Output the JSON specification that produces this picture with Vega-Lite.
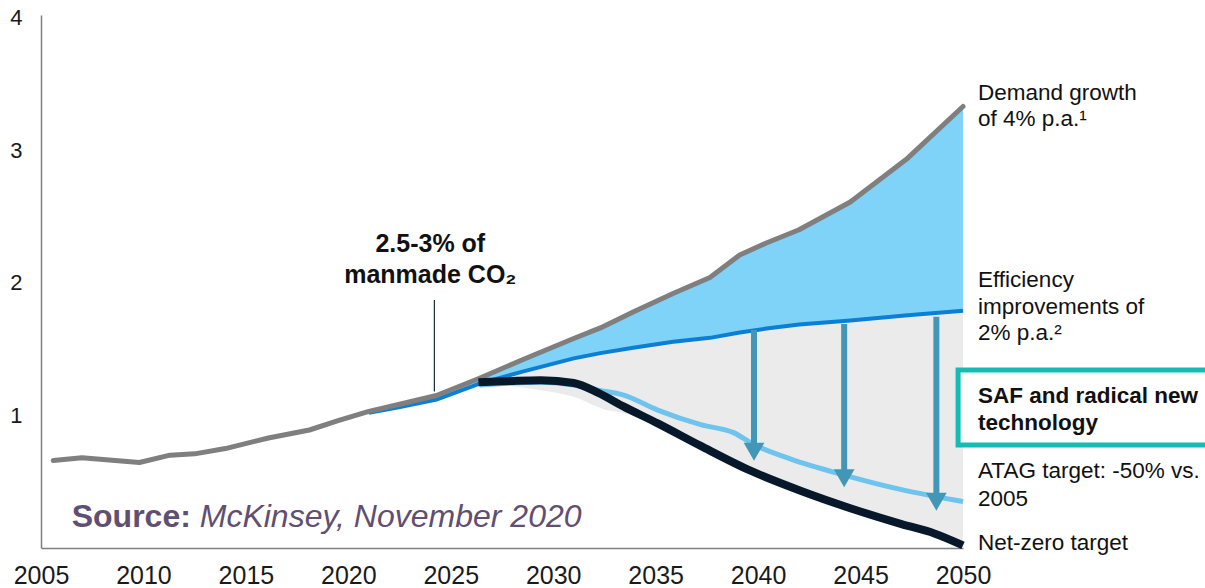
{
  "$schema": "https://vega.github.io/schema/vega-lite/v6.json",
  "width": 922,
  "height": 533,
  "autosize": "none",
  "padding": {"left": 41, "top": 15, "right": 242, "bottom": 40},
  "background": "white",
  "config": {
    "view": {"stroke": null},
    "font": "Liberation Sans",
    "axis": {
      "domainColor": "#808080",
      "domainWidth": 1.5,
      "ticks": false,
      "tickSize": 0,
      "grid": false,
      "labelFont": "Liberation Sans",
      "labelColor": "#1a1a1a",
      "title": null
    }
  },
  "datasets": {
    "demand": [
      {"year": 2005.6, "value": 0.66},
      {"year": 2007.0, "value": 0.68},
      {"year": 2009.8, "value": 0.645},
      {"year": 2011.3, "value": 0.70},
      {"year": 2012.5, "value": 0.71},
      {"year": 2014.0, "value": 0.75},
      {"year": 2016.1, "value": 0.83},
      {"year": 2018.1, "value": 0.89},
      {"year": 2019.5, "value": 0.96},
      {"year": 2021.0, "value": 1.03},
      {"year": 2022.4, "value": 1.08},
      {"year": 2024.3, "value": 1.15},
      {"year": 2026.4, "value": 1.28},
      {"year": 2028.5, "value": 1.42},
      {"year": 2031.0, "value": 1.58},
      {"year": 2032.3, "value": 1.66},
      {"year": 2033.9, "value": 1.78},
      {"year": 2035.85, "value": 1.92},
      {"year": 2037.65, "value": 2.04},
      {"year": 2039.1, "value": 2.21},
      {"year": 2040.4, "value": 2.30},
      {"year": 2042.0, "value": 2.40},
      {"year": 2044.5, "value": 2.61},
      {"year": 2047.3, "value": 2.94},
      {"year": 2050.0, "value": 3.33}
    ],
    "growth": [
      {"year": 2021.0, "demand": 1.03, "efficiency": 1.02},
      {"year": 2022.4, "demand": 1.08, "efficiency": 1.06},
      {"year": 2024.3, "demand": 1.15, "efficiency": 1.12},
      {"year": 2026.4, "demand": 1.28, "efficiency": 1.24},
      {"year": 2028.5, "demand": 1.42, "efficiency": 1.33},
      {"year": 2031.0, "demand": 1.58, "efficiency": 1.43},
      {"year": 2032.3, "demand": 1.66, "efficiency": 1.47},
      {"year": 2033.9, "demand": 1.78, "efficiency": 1.51},
      {"year": 2035.85, "demand": 1.92, "efficiency": 1.555},
      {"year": 2037.65, "demand": 2.04, "efficiency": 1.585},
      {"year": 2039.1, "demand": 2.21, "efficiency": 1.625},
      {"year": 2040.4, "demand": 2.30, "efficiency": 1.655},
      {"year": 2042.0, "demand": 2.40, "efficiency": 1.685},
      {"year": 2044.5, "demand": 2.61, "efficiency": 1.715},
      {"year": 2047.3, "demand": 2.94, "efficiency": 1.755},
      {"year": 2050.0, "demand": 3.33, "efficiency": 1.79}
    ],
    "reduction": [
      {"year": 2026.4, "efficiency": 1.24, "lower": 1.24},
      {"year": 2028.0, "efficiency": 1.31, "lower": 1.22},
      {"year": 2029.4, "efficiency": 1.37, "lower": 1.19},
      {"year": 2031.0, "efficiency": 1.43, "lower": 1.14},
      {"year": 2032.6, "efficiency": 1.48, "lower": 1.04},
      {"year": 2033.4, "efficiency": 1.50, "lower": 1.02},
      {"year": 2035.1, "efficiency": 1.54, "lower": 0.92},
      {"year": 2037.2, "efficiency": 1.575, "lower": 0.77},
      {"year": 2039.6, "efficiency": 1.64, "lower": 0.585},
      {"year": 2042.1, "efficiency": 1.685, "lower": 0.43},
      {"year": 2044.5, "efficiency": 1.715, "lower": 0.30},
      {"year": 2047.0, "efficiency": 1.75, "lower": 0.18},
      {"year": 2048.6, "efficiency": 1.77, "lower": 0.11},
      {"year": 2050.0, "efficiency": 1.79, "lower": 0.02}
    ],
    "atag": [
      {"year": 2026.4, "value": 1.23},
      {"year": 2029.4, "value": 1.25},
      {"year": 2031.0, "value": 1.23},
      {"year": 2032.2, "value": 1.19},
      {"year": 2033.4, "value": 1.155},
      {"year": 2035.1, "value": 1.04},
      {"year": 2037.2, "value": 0.93},
      {"year": 2038.8, "value": 0.87},
      {"year": 2039.8, "value": 0.78},
      {"year": 2041.6, "value": 0.67},
      {"year": 2044.2, "value": 0.55},
      {"year": 2047.0, "value": 0.44},
      {"year": 2050.0, "value": 0.35}
    ],
    "netzero": [
      {"year": 2026.35, "value": 1.25},
      {"year": 2028.0, "value": 1.26},
      {"year": 2029.4, "value": 1.265},
      {"year": 2031.0, "value": 1.245},
      {"year": 2032.2, "value": 1.17},
      {"year": 2033.4, "value": 1.07},
      {"year": 2035.1, "value": 0.94},
      {"year": 2037.2, "value": 0.77},
      {"year": 2039.6, "value": 0.585},
      {"year": 2042.1, "value": 0.43},
      {"year": 2044.5, "value": 0.30},
      {"year": 2047.0, "value": 0.18},
      {"year": 2048.6, "value": 0.11},
      {"year": 2050.0, "value": 0.02}
    ],
    "arrows": [
      {"year": 2039.8, "start": 1.645, "tip": 0.643},
      {"year": 2044.2, "start": 1.69, "tip": 0.443},
      {"year": 2048.7, "start": 1.745, "tip": 0.266}
    ]
  },
  "layer": [
    {
      "data": {"name": "reduction"},
      "mark": {"type": "area", "color": "#ebebeb", "interpolate": "monotone"},
      "encoding": {
        "x": {
          "field": "year", "type": "quantitative",
          "scale": {"domain": [2005, 2050], "nice": false, "zero": false},
          "axis": {"values": [2005, 2010, 2015, 2020, 2025, 2030, 2035, 2040, 2045, 2050], "format": "d", "labelFontSize": 25, "labelPadding": 15, "labelFlush": false, "labelOverlap": false}
        },
        "y": {
          "field": "efficiency", "type": "quantitative",
          "scale": {"domain": [0, 4.02], "nice": false},
          "axis": {"values": [1, 2, 3, 4], "format": "d", "labelFontSize": 22, "labelPadding": 19, "labelFlush": false}
        },
        "y2": {"field": "lower"}
      }
    },
    {
      "data": {"name": "growth"},
      "mark": {"type": "area", "color": "#80d3f8"},
      "encoding": {
        "x": {"field": "year", "type": "quantitative", "scale": {"domain": [2005, 2050], "nice": false, "zero": false}},
        "y": {"field": "demand", "type": "quantitative", "scale": {"domain": [0, 4.02], "nice": false}},
        "y2": {"field": "efficiency"}
      }
    },
    {
      "data": {"name": "growth"},
      "mark": {"type": "line", "color": "#0a7fd3", "strokeWidth": 4, "strokeCap": "butt"},
      "encoding": {
        "x": {"field": "year", "type": "quantitative", "scale": {"domain": [2005, 2050], "nice": false, "zero": false}},
        "y": {"field": "efficiency", "type": "quantitative", "scale": {"domain": [0, 4.02], "nice": false}}
      }
    },
    {
      "data": {"name": "demand"},
      "mark": {"type": "line", "color": "#7f7f7f", "strokeWidth": 5, "strokeJoin": "round", "strokeCap": "round"},
      "encoding": {
        "x": {"field": "year", "type": "quantitative", "scale": {"domain": [2005, 2050], "nice": false, "zero": false}},
        "y": {"field": "value", "type": "quantitative", "scale": {"domain": [0, 4.02], "nice": false}}
      }
    },
    {
      "data": {"name": "atag"},
      "mark": {"type": "line", "color": "#6ec4ec", "strokeWidth": 5, "interpolate": "monotone", "strokeCap": "butt"},
      "encoding": {
        "x": {"field": "year", "type": "quantitative", "scale": {"domain": [2005, 2050], "nice": false, "zero": false}},
        "y": {"field": "value", "type": "quantitative", "scale": {"domain": [0, 4.02], "nice": false}}
      }
    },
    {
      "data": {"name": "netzero"},
      "mark": {"type": "line", "color": "#06182a", "strokeWidth": 8, "interpolate": "monotone", "strokeCap": "butt"},
      "encoding": {
        "x": {"field": "year", "type": "quantitative", "scale": {"domain": [2005, 2050], "nice": false, "zero": false}},
        "y": {"field": "value", "type": "quantitative", "scale": {"domain": [0, 4.02], "nice": false}}
      }
    },
    {
      "data": {"name": "arrows"},
      "mark": {"type": "rule", "color": "#4397b6", "strokeWidth": 6, "strokeCap": "butt", "y2Offset": -9},
      "encoding": {
        "x": {"field": "year", "type": "quantitative", "scale": {"domain": [2005, 2050], "nice": false, "zero": false}},
        "y": {"field": "start", "type": "quantitative", "scale": {"domain": [0, 4.02], "nice": false}},
        "y2": {"field": "tip"}
      }
    },
    {
      "data": {"name": "arrows"},
      "mark": {"type": "point", "shape": "triangle-down", "filled": true, "size": 430, "color": "#4397b6", "opacity": 1, "yOffset": -11},
      "encoding": {
        "x": {"field": "year", "type": "quantitative", "scale": {"domain": [2005, 2050], "nice": false, "zero": false}},
        "y": {"field": "tip", "type": "quantitative", "scale": {"domain": [0, 4.02], "nice": false}}
      }
    },
    {
      "data": {"values": [{"note": ["2.5-3% of", "manmade CO₂"]}]},
      "layer": [
        {
          "mark": {"type": "rule", "color": "#1c2b3a", "strokeWidth": 1.2},
          "encoding": {
            "x": {"datum": 2024.2, "type": "quantitative"},
            "y": {"datum": 1.87, "type": "quantitative"},
            "y2": {"datum": 1.18}
          }
        },
        {
          "mark": {"type": "text", "align": "center", "baseline": "alphabetic", "fontSize": 25, "fontWeight": "bold", "lineHeight": 31, "color": "#111111"},
          "encoding": {
            "x": {"datum": 2024.0, "type": "quantitative"},
            "y": {"datum": 2.232, "type": "quantitative"},
            "text": {"field": "note"}
          }
        }
      ]
    },
    {
      "data": {"values": [{"lead": "Source:", "body": "McKinsey, November 2020"}]},
      "layer": [
        {
          "mark": {"type": "text", "align": "left", "baseline": "alphabetic", "fontSize": 32, "fontWeight": "bold", "color": "#5f4f70"},
          "encoding": {
            "x": {"datum": 2006.5, "type": "quantitative"},
            "y": {"datum": 0.158, "type": "quantitative"},
            "text": {"field": "lead"}
          }
        },
        {
          "mark": {"type": "text", "align": "left", "baseline": "alphabetic", "fontSize": 32, "fontStyle": "italic", "color": "#5f4f70", "dx": 128},
          "encoding": {
            "x": {"datum": 2006.5, "type": "quantitative"},
            "y": {"datum": 0.158, "type": "quantitative"},
            "text": {"field": "body"}
          }
        }
      ]
    },
    {
      "data": {"values": [{"box": ["SAF and radical new", "technology"]}]},
      "layer": [
        {
          "mark": {"type": "rect", "fill": "white", "stroke": "#14bdb3", "strokeWidth": 5},
          "encoding": {
            "x": {"datum": 2049.76, "type": "quantitative"},
            "x2": {"datum": 2062},
            "y": {"datum": 1.342, "type": "quantitative"},
            "y2": {"datum": 0.777}
          }
        },
        {
          "mark": {"type": "text", "align": "left", "baseline": "alphabetic", "fontSize": 22.5, "fontWeight": "bold", "lineHeight": 27, "color": "#111111", "dx": 15},
          "encoding": {
            "x": {"datum": 2050, "type": "quantitative"},
            "y": {"datum": 1.094, "type": "quantitative"},
            "text": {"field": "box"}
          }
        }
      ]
    },
    {
      "data": {"values": [{"t": ["Demand growth", "of 4% p.a.¹"]}]},
      "mark": {"type": "text", "align": "left", "baseline": "alphabetic", "fontSize": 22.5, "lineHeight": 26, "color": "#111111", "dx": 15},
      "encoding": {
        "x": {"datum": 2050, "type": "quantitative"},
        "y": {"datum": 3.379, "type": "quantitative"},
        "text": {"field": "t"}
      }
    },
    {
      "data": {"values": [{"t": ["Efficiency", "improvements of", "2% p.a.²"]}]},
      "mark": {"type": "text", "align": "left", "baseline": "alphabetic", "fontSize": 22.5, "lineHeight": 26.5, "color": "#111111", "dx": 15},
      "encoding": {
        "x": {"datum": 2050, "type": "quantitative"},
        "y": {"datum": 1.968, "type": "quantitative"},
        "text": {"field": "t"}
      }
    },
    {
      "data": {"values": [{"t": ["ATAG target: -50% vs.", "2005"]}]},
      "mark": {"type": "text", "align": "left", "baseline": "alphabetic", "fontSize": 22.5, "lineHeight": 28, "color": "#111111", "dx": 15},
      "encoding": {
        "x": {"datum": 2050, "type": "quantitative"},
        "y": {"datum": 0.528, "type": "quantitative"},
        "text": {"field": "t"}
      }
    },
    {
      "data": {"values": [{"t": "Net-zero target"}]},
      "mark": {"type": "text", "align": "left", "baseline": "alphabetic", "fontSize": 22.5, "color": "#111111", "dx": 15},
      "encoding": {
        "x": {"datum": 2050, "type": "quantitative"},
        "y": {"datum": -0.015, "type": "quantitative"},
        "text": {"field": "t"}
      }
    }
  ]
}
